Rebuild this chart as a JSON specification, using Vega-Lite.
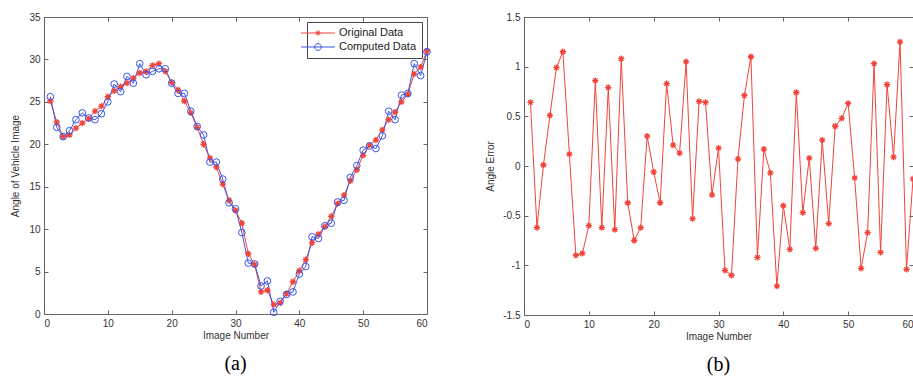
{
  "$schema": "https://vega.github.io/schema/vega-lite/v6.json",
  "padding": {"left": 10, "top": 11, "right": 0, "bottom": 0},
  "background": "white",
  "spacing": 51,
  "resolve": {"scale": {"color": "independent"}, "legend": {"color": "independent"}},
  "config": {
    "view": {"stroke": "#666", "strokeWidth": 1},
    "axis": {
      "labelFont": "Liberation Sans", "labelFontSize": 10, "labelColor": "#333",
      "titleFont": "Liberation Sans", "titleFontSize": 10, "titleFontWeight": "normal", "titleColor": "#333",
      "domain": false, "grid": false, "tickSize": -4, "tickColor": "#666", "labelPadding": 8
    },
    "title": {"font": "Liberation Serif", "fontSize": 20, "fontWeight": "normal", "color": "#000"}
  },
  "datasets": {
    "a": [
      {"n":1,"s":"Original Data","v":25.1},{"n":2,"s":"Original Data","v":22.6},{"n":3,"s":"Original Data","v":20.9},{"n":4,"s":"Original Data","v":21.1},{"n":5,"s":"Original Data","v":21.9},{"n":6,"s":"Original Data","v":22.5},{"n":7,"s":"Original Data","v":23.0},{"n":8,"s":"Original Data","v":23.9},{"n":9,"s":"Original Data","v":24.5},{"n":10,"s":"Original Data","v":25.6},
      {"n":11,"s":"Original Data","v":26.3},{"n":12,"s":"Original Data","v":26.8},{"n":13,"s":"Original Data","v":27.2},{"n":14,"s":"Original Data","v":27.8},{"n":15,"s":"Original Data","v":28.4},{"n":16,"s":"Original Data","v":28.6},{"n":17,"s":"Original Data","v":29.3},{"n":18,"s":"Original Data","v":29.5},{"n":19,"s":"Original Data","v":28.6},{"n":20,"s":"Original Data","v":27.3},
      {"n":21,"s":"Original Data","v":26.4},{"n":22,"s":"Original Data","v":25.1},{"n":23,"s":"Original Data","v":23.7},{"n":24,"s":"Original Data","v":22.0},{"n":25,"s":"Original Data","v":20.0},{"n":26,"s":"Original Data","v":18.4},{"n":27,"s":"Original Data","v":17.3},{"n":28,"s":"Original Data","v":15.3},{"n":29,"s":"Original Data","v":13.4},{"n":30,"s":"Original Data","v":12.2},
      {"n":31,"s":"Original Data","v":10.7},{"n":32,"s":"Original Data","v":7.1},{"n":33,"s":"Original Data","v":5.8},{"n":34,"s":"Original Data","v":2.6},{"n":35,"s":"Original Data","v":2.8},{"n":36,"s":"Original Data","v":1.1},{"n":37,"s":"Original Data","v":1.3},{"n":38,"s":"Original Data","v":2.4},{"n":39,"s":"Original Data","v":3.8},{"n":40,"s":"Original Data","v":5.1},
      {"n":41,"s":"Original Data","v":6.4},{"n":42,"s":"Original Data","v":8.4},{"n":43,"s":"Original Data","v":9.4},{"n":44,"s":"Original Data","v":10.3},{"n":45,"s":"Original Data","v":11.5},{"n":46,"s":"Original Data","v":13.0},{"n":47,"s":"Original Data","v":14.0},{"n":48,"s":"Original Data","v":15.7},{"n":49,"s":"Original Data","v":17.0},{"n":50,"s":"Original Data","v":18.7},
      {"n":51,"s":"Original Data","v":19.9},{"n":52,"s":"Original Data","v":20.5},{"n":53,"s":"Original Data","v":21.7},{"n":54,"s":"Original Data","v":22.9},{"n":55,"s":"Original Data","v":23.8},{"n":56,"s":"Original Data","v":25.0},{"n":57,"s":"Original Data","v":25.9},{"n":58,"s":"Original Data","v":28.3},{"n":59,"s":"Original Data","v":29.1},{"n":60,"s":"Original Data","v":31.0},
      {"n":1,"s":"Computed Data","v":25.6},{"n":2,"s":"Computed Data","v":22.0},{"n":3,"s":"Computed Data","v":20.9},{"n":4,"s":"Computed Data","v":21.6},{"n":5,"s":"Computed Data","v":22.9},{"n":6,"s":"Computed Data","v":23.7},{"n":7,"s":"Computed Data","v":23.1},{"n":8,"s":"Computed Data","v":22.9},{"n":9,"s":"Computed Data","v":23.6},{"n":10,"s":"Computed Data","v":25.0},
      {"n":11,"s":"Computed Data","v":27.1},{"n":12,"s":"Computed Data","v":26.2},{"n":13,"s":"Computed Data","v":28.0},{"n":14,"s":"Computed Data","v":27.2},{"n":15,"s":"Computed Data","v":29.5},{"n":16,"s":"Computed Data","v":28.2},{"n":17,"s":"Computed Data","v":28.6},{"n":18,"s":"Computed Data","v":28.9},{"n":19,"s":"Computed Data","v":28.9},{"n":20,"s":"Computed Data","v":27.2},
      {"n":21,"s":"Computed Data","v":26.0},{"n":22,"s":"Computed Data","v":26.0},{"n":23,"s":"Computed Data","v":23.9},{"n":24,"s":"Computed Data","v":22.1},{"n":25,"s":"Computed Data","v":21.1},{"n":26,"s":"Computed Data","v":17.9},{"n":27,"s":"Computed Data","v":17.9},{"n":28,"s":"Computed Data","v":15.9},{"n":29,"s":"Computed Data","v":13.1},{"n":30,"s":"Computed Data","v":12.4},
      {"n":31,"s":"Computed Data","v":9.6},{"n":32,"s":"Computed Data","v":6.0},{"n":33,"s":"Computed Data","v":5.9},{"n":34,"s":"Computed Data","v":3.3},{"n":35,"s":"Computed Data","v":3.9},{"n":36,"s":"Computed Data","v":0.2},{"n":37,"s":"Computed Data","v":1.5},{"n":38,"s":"Computed Data","v":2.3},{"n":39,"s":"Computed Data","v":2.6},{"n":40,"s":"Computed Data","v":4.7},
      {"n":41,"s":"Computed Data","v":5.6},{"n":42,"s":"Computed Data","v":9.1},{"n":43,"s":"Computed Data","v":8.9},{"n":44,"s":"Computed Data","v":10.4},{"n":45,"s":"Computed Data","v":10.7},{"n":46,"s":"Computed Data","v":13.2},{"n":47,"s":"Computed Data","v":13.4},{"n":48,"s":"Computed Data","v":16.1},{"n":49,"s":"Computed Data","v":17.5},{"n":50,"s":"Computed Data","v":19.3},
      {"n":51,"s":"Computed Data","v":19.8},{"n":52,"s":"Computed Data","v":19.5},{"n":53,"s":"Computed Data","v":21.0},{"n":54,"s":"Computed Data","v":23.9},{"n":55,"s":"Computed Data","v":22.9},{"n":56,"s":"Computed Data","v":25.8},{"n":57,"s":"Computed Data","v":26.0},{"n":58,"s":"Computed Data","v":29.5},{"n":59,"s":"Computed Data","v":28.1},{"n":60,"s":"Computed Data","v":30.9}
    ],
    "b": [
      {"n":1,"e":0.64},{"n":2,"e":-0.62},{"n":3,"e":0.01},{"n":4,"e":0.51},{"n":5,"e":0.99},{"n":6,"e":1.15},{"n":7,"e":0.12},{"n":8,"e":-0.9},{"n":9,"e":-0.88},{"n":10,"e":-0.6},
      {"n":11,"e":0.86},{"n":12,"e":-0.62},{"n":13,"e":0.79},{"n":14,"e":-0.64},{"n":15,"e":1.08},{"n":16,"e":-0.37},{"n":17,"e":-0.75},{"n":18,"e":-0.62},{"n":19,"e":0.3},{"n":20,"e":-0.06},
      {"n":21,"e":-0.37},{"n":22,"e":0.83},{"n":23,"e":0.21},{"n":24,"e":0.13},{"n":25,"e":1.05},{"n":26,"e":-0.53},{"n":27,"e":0.65},{"n":28,"e":0.64},{"n":29,"e":-0.29},{"n":30,"e":0.18},
      {"n":31,"e":-1.05},{"n":32,"e":-1.1},{"n":33,"e":0.07},{"n":34,"e":0.71},{"n":35,"e":1.1},{"n":36,"e":-0.92},{"n":37,"e":0.17},{"n":38,"e":-0.07},{"n":39,"e":-1.21},{"n":40,"e":-0.4},
      {"n":41,"e":-0.84},{"n":42,"e":0.74},{"n":43,"e":-0.47},{"n":44,"e":0.08},{"n":45,"e":-0.83},{"n":46,"e":0.26},{"n":47,"e":-0.58},{"n":48,"e":0.4},{"n":49,"e":0.48},{"n":50,"e":0.63},
      {"n":51,"e":-0.12},{"n":52,"e":-1.03},{"n":53,"e":-0.67},{"n":54,"e":1.03},{"n":55,"e":-0.87},{"n":56,"e":0.82},{"n":57,"e":0.09},{"n":58,"e":1.25},{"n":59,"e":-1.04},{"n":60,"e":-0.13}
    ]
  },
  "hconcat": [
    {
      "width": 383, "height": 297,
      "title": {"text": "(a)", "orient": "bottom", "offset": 14},
      "data": {"name": "a"},
      "layer": [
        {
          "mark": {"type": "line", "strokeWidth": 1},
          "encoding": {
            "x": {"field": "n", "type": "quantitative", "scale": {"domain": [0, 60], "nice": false},
                  "axis": {"values": [0,10,20,30,40,50,60], "title": "Image Number", "titlePadding": 2, "labelPadding": 8}},
            "y": {"field": "v", "type": "quantitative", "scale": {"domain": [0, 35], "nice": false},
                  "axis": {"values": [0,5,10,15,20,25,30,35], "title": "Angle of Vehicle Image", "titlePadding": 8}},
            "color": {"field": "s", "type": "nominal",
                      "scale": {"domain": ["Original Data", "Computed Data"], "range": ["#f0443a", "#3a55e8"]},
                      "legend": {"title": null, "orient": "top-right", "offset": 5, "padding": 5,
                                 "strokeColor": "#444", "fillColor": "white",
                                 "symbolSize": 120, "symbolStrokeWidth": 1,
                                 "labelFont": "Liberation Sans", "labelFontSize": 11, "labelColor": "#222",
                                 "rowPadding": 3, "labelOffset": 15,
                                 "encode": {"symbols": {"update": {
                                   "shape": {"signal": "datum.value === 'Original Data' ? 'M-3.1,0L3.1,0M-0.45,0L0.45,0M0,-0.5L0,0.5M-0.33,-0.33L0.33,0.33M-0.33,0.33L0.33,-0.33' : 'M-3.1,0L3.1,0M0.62,0A0.62,0.62,0,1,1,-0.62,0A0.62,0.62,0,1,1,0.62,0'"},
                                   "fill": {"value": "transparent"}}}}}}
          }
        },
        {
          "transform": [{"filter": "datum.s === 'Original Data'"}],
          "mark": {"type": "point", "filled": false, "strokeWidth": 1.3, "color": "#f0443a", "opacity": 1,
                   "shape": "M-1,0L1,0M0,-1L0,1M-0.7,-0.7L0.7,0.7M-0.7,0.7L0.7,-0.7", "size": 40},
          "encoding": {
            "x": {"field": "n", "type": "quantitative", "axis": {"values": [0,10,20,30,40,50,60], "labels": false, "title": null}},
            "y": {"field": "v", "type": "quantitative", "axis": {"values": [0,5,10,15,20,25,30,35], "labels": false, "title": null}}
          }
        },
        {
          "transform": [{"filter": "datum.s === 'Computed Data'"}],
          "mark": {"type": "point", "filled": false, "strokeWidth": 1, "color": "#3a55e8", "opacity": 1, "shape": "circle", "size": 45},
          "encoding": {
            "x": {"field": "n", "type": "quantitative", "axis": null},
            "y": {"field": "v", "type": "quantitative", "axis": null}
          }
        }
      ],
      "resolve": {"axis": {"x": "independent", "y": "independent"}}
    },
    {
      "width": 389, "height": 298,
      "title": {"text": "(b)", "orient": "bottom", "offset": 14},
      "data": {"name": "b"},
      "layer": [
        {
          "mark": {"type": "line", "strokeWidth": 1, "color": "#f0443a"},
          "encoding": {
            "x": {"field": "n", "type": "quantitative", "scale": {"domain": [0, 60], "nice": false},
                  "axis": {"values": [0,10,20,30,40,50,60], "title": "Image Number", "titlePadding": 2}},
            "y": {"field": "e", "type": "quantitative", "scale": {"domain": [-1.5, 1.5], "nice": false},
                  "axis": {"values": [-1.5,-1,-0.5,0,0.5,1,1.5], "labelExpr": "'' + datum.value", "title": "Angle Error", "titlePadding": 7}}
          }
        },
        {
          "mark": {"type": "point", "filled": false, "strokeWidth": 1.3, "color": "#f0443a", "opacity": 1,
                   "shape": "M-1,0L1,0M0,-1L0,1M-0.7,-0.7L0.7,0.7M-0.7,0.7L0.7,-0.7", "size": 40},
          "encoding": {
            "x": {"field": "n", "type": "quantitative", "axis": {"values": [0,10,20,30,40,50,60], "labels": false, "title": null}},
            "y": {"field": "e", "type": "quantitative", "axis": {"values": [-1.5,-1,-0.5,0,0.5,1,1.5], "labels": false, "title": null}}
          }
        }
      ],
      "resolve": {"axis": {"x": "independent", "y": "independent"}}
    }
  ]
}
